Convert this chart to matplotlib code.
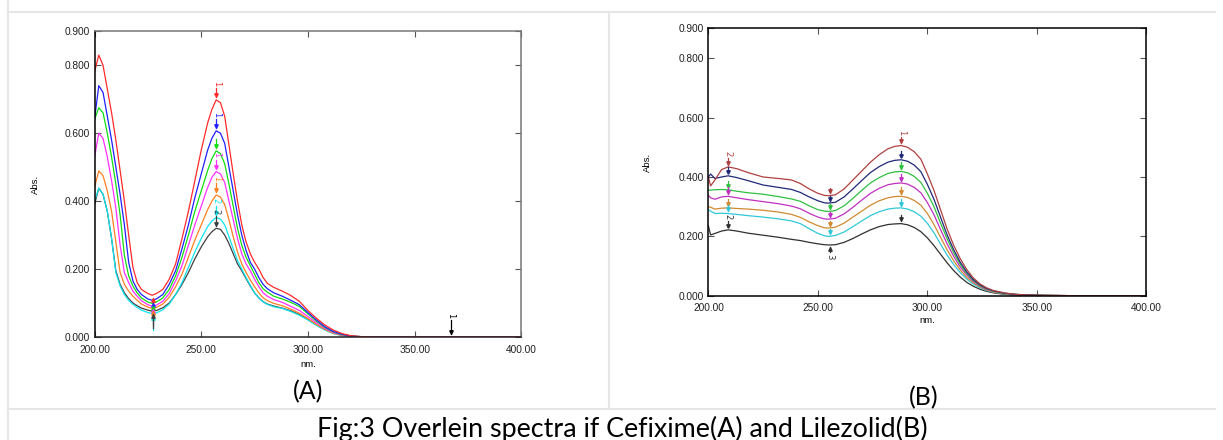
import numpy as np
import matplotlib
matplotlib.use("Agg")
import matplotlib.pyplot as plt
from matplotlib.lines import Line2D

# ---------------- data: (A) Cefixime ----------------
wl_a = [200, 202, 204, 206, 208, 210, 212, 214, 216, 218, 220, 222, 225, 227, 229, 232, 235, 238,
        241, 244, 247, 250, 253, 255, 257, 259, 261, 263, 265, 267, 269, 271, 273, 275, 277, 279,
        281, 284, 288, 292, 296, 300, 304, 308, 312, 316, 320, 325, 330, 400]
cef_red = [0.78, 0.83, 0.80, 0.73, 0.66, 0.58, 0.49, 0.40, 0.30, 0.205, 0.16, 0.14, 0.128, 0.123, 0.128,
           0.14, 0.17, 0.215, 0.29, 0.37, 0.46, 0.55, 0.63, 0.67, 0.698, 0.69, 0.65, 0.565, 0.48, 0.40,
           0.33, 0.28, 0.245, 0.22, 0.20, 0.175, 0.158, 0.146, 0.135, 0.122, 0.105, 0.078, 0.055, 0.035,
           0.02, 0.01, 0.004, 0.001, 0.0, 0.0]
cef_blue = [0.64, 0.74, 0.72, 0.65, 0.58, 0.50, 0.42, 0.33, 0.22, 0.165, 0.14, 0.125, 0.112, 0.108, 0.112,
            0.125, 0.155, 0.195, 0.26, 0.33, 0.41, 0.48, 0.55, 0.585, 0.607, 0.60, 0.57, 0.50, 0.43, 0.36,
            0.30, 0.255, 0.22, 0.20, 0.175, 0.155, 0.142, 0.130, 0.120, 0.108, 0.095, 0.072, 0.050, 0.030,
            0.016, 0.008, 0.003, 0.001, 0.0, 0.0]
cef_green = [0.64, 0.675, 0.66, 0.60, 0.53, 0.45, 0.36, 0.24, 0.18, 0.15, 0.13, 0.115, 0.103, 0.099, 0.103,
             0.115, 0.14, 0.18, 0.235, 0.30, 0.37, 0.43, 0.49, 0.525, 0.548, 0.54, 0.51, 0.45, 0.385, 0.32,
             0.27, 0.235, 0.21, 0.185, 0.16, 0.142, 0.132, 0.12, 0.112, 0.102, 0.090, 0.068, 0.047, 0.028,
             0.015, 0.007, 0.003, 0.001, 0.0, 0.0]
cef_magenta = [0.53, 0.60, 0.585, 0.53, 0.46, 0.38, 0.27, 0.19, 0.16, 0.135, 0.12, 0.107, 0.095, 0.091, 0.094,
               0.105, 0.128, 0.165, 0.21, 0.27, 0.33, 0.385, 0.44, 0.47, 0.487, 0.48, 0.455, 0.40, 0.345, 0.29,
               0.245, 0.215, 0.195, 0.17, 0.148, 0.13, 0.12, 0.11, 0.102, 0.09, 0.078, 0.06, 0.042, 0.025,
               0.013, 0.006, 0.002, 0.0, 0.0, 0.0]
cef_orange = [0.44, 0.489, 0.475, 0.43, 0.37, 0.28, 0.19, 0.155, 0.135, 0.12, 0.108, 0.097, 0.088, 0.084, 0.087,
              0.097, 0.117, 0.148, 0.185, 0.235, 0.285, 0.33, 0.375, 0.40, 0.418, 0.412, 0.39, 0.345, 0.295, 0.25,
              0.215, 0.19, 0.168, 0.148, 0.13, 0.115, 0.107, 0.099, 0.092, 0.082, 0.07, 0.054, 0.037, 0.022,
              0.011, 0.005, 0.002, 0.0, 0.0, 0.0]
cef_cyan = [0.40, 0.438, 0.42, 0.37, 0.29, 0.19, 0.15, 0.125, 0.108, 0.096, 0.087, 0.079, 0.072, 0.069, 0.071,
            0.08, 0.097, 0.125, 0.16, 0.205, 0.25, 0.29, 0.325, 0.342, 0.352, 0.347, 0.33, 0.295, 0.26, 0.225,
            0.20, 0.175, 0.152, 0.13, 0.115, 0.103, 0.096, 0.089, 0.084, 0.075, 0.064, 0.05, 0.034, 0.02,
            0.01, 0.004, 0.001, 0.0, 0.0, 0.0]
cef_black = [0.39, 0.438, 0.42, 0.37, 0.29, 0.195, 0.155, 0.13, 0.113, 0.10, 0.092, 0.085, 0.079, 0.076, 0.078,
             0.086, 0.10, 0.125, 0.155, 0.19, 0.23, 0.265, 0.295, 0.31, 0.32, 0.317, 0.30, 0.275, 0.245, 0.215,
             0.195, 0.172, 0.15, 0.13, 0.115, 0.104, 0.097, 0.091, 0.085, 0.077, 0.066, 0.052, 0.036, 0.022,
             0.011, 0.005, 0.002, 0.0, 0.0, 0.0]
cef_series = [cef_red, cef_blue, cef_green, cef_magenta, cef_orange, cef_cyan, cef_black]
cef_colors = ["#ff2a2a", "#2020ff", "#10dd10", "#ff30ff", "#ff8020", "#10e6f0", "#404040"]
cef_peak_labels = ["1", "1", "", "1", "1", "2", "2"]
cef_peak_nm = 257
cef_min_nm = 227.5
cef_extra_nm = 367

# ---------------- data: (B) Linezolid ----------------
wl_b = [200, 201, 203, 206, 209, 213, 218, 225, 232, 238, 242, 246, 250, 253, 255, 258, 262, 266, 270,
        274, 278, 282, 285, 288, 291, 294, 297, 300, 303, 306, 309, 312, 315, 318, 321, 324, 327, 330,
        335, 340, 345, 350, 360, 370, 400]
lin_red = [0.40, 0.37, 0.39, 0.425, 0.434, 0.428, 0.415, 0.40, 0.395, 0.39, 0.378, 0.36, 0.345, 0.338, 0.337,
           0.34, 0.36, 0.39, 0.42, 0.45, 0.475, 0.495, 0.503, 0.506, 0.50, 0.485, 0.46, 0.41, 0.355, 0.29,
           0.225, 0.17, 0.125, 0.088, 0.06, 0.04, 0.027, 0.018, 0.01, 0.005, 0.003, 0.002, 0.001, 0.0, 0.0]
lin_navy = [0.40, 0.41, 0.395, 0.40, 0.404, 0.398, 0.388, 0.373, 0.365, 0.358, 0.348, 0.333, 0.32, 0.313, 0.312,
            0.315, 0.333, 0.36, 0.388, 0.415, 0.435, 0.45, 0.456, 0.458, 0.453, 0.44, 0.418, 0.375, 0.325, 0.265,
            0.205, 0.155, 0.113, 0.08, 0.055, 0.037, 0.025, 0.017, 0.009, 0.005, 0.003, 0.002, 0.001, 0.0, 0.0]
lin_green = [0.355, 0.356, 0.357, 0.358, 0.357, 0.352, 0.347, 0.342, 0.334, 0.326, 0.318, 0.303, 0.29, 0.285,
             0.284, 0.287, 0.303, 0.328, 0.355, 0.38, 0.398, 0.412, 0.417, 0.419, 0.414, 0.402, 0.382, 0.345,
             0.30, 0.245, 0.192, 0.145, 0.106, 0.075, 0.052, 0.035, 0.024, 0.016, 0.008, 0.005, 0.003, 0.002,
             0.001, 0.0, 0.0]
lin_magenta = [0.338, 0.33, 0.325, 0.333, 0.335, 0.33, 0.324, 0.317, 0.31, 0.302, 0.293, 0.278, 0.265, 0.259,
               0.258, 0.261, 0.276, 0.298, 0.322, 0.345, 0.362, 0.374, 0.378, 0.38, 0.376, 0.365, 0.347, 0.314,
               0.273, 0.223, 0.175, 0.133, 0.097, 0.07, 0.048, 0.033, 0.022, 0.015, 0.008, 0.004, 0.002, 0.001,
               0.001, 0.0, 0.0]
lin_orange = [0.30, 0.298, 0.292, 0.295, 0.296, 0.294, 0.292, 0.288, 0.282, 0.274, 0.264, 0.249, 0.236, 0.229,
              0.228, 0.231, 0.245, 0.265, 0.285, 0.305, 0.32, 0.33, 0.334, 0.335, 0.331, 0.321, 0.305, 0.277,
              0.24, 0.197, 0.155, 0.118, 0.087, 0.062, 0.044, 0.03, 0.02, 0.013, 0.007, 0.004, 0.002, 0.001,
              0.0, 0.0, 0.0]
lin_cyan = [0.29, 0.285, 0.277, 0.278, 0.277, 0.274, 0.27, 0.265, 0.259, 0.252, 0.243, 0.226, 0.21, 0.202, 0.2,
            0.203, 0.215, 0.233, 0.252, 0.27, 0.283, 0.292, 0.295, 0.296, 0.292, 0.283, 0.268, 0.244, 0.212,
            0.174, 0.137, 0.105, 0.078, 0.056, 0.039, 0.027, 0.018, 0.012, 0.006, 0.003, 0.002, 0.001, 0.0,
            0.0, 0.0]
lin_black = [0.235, 0.205, 0.21, 0.218, 0.222, 0.218, 0.211, 0.204, 0.197, 0.19, 0.186, 0.18, 0.175, 0.172,
             0.171, 0.172, 0.18, 0.193, 0.208, 0.222, 0.233, 0.24, 0.242, 0.243, 0.239, 0.23, 0.216, 0.195,
             0.169, 0.14, 0.111, 0.085, 0.063, 0.045, 0.032, 0.022, 0.015, 0.01, 0.005, 0.003, 0.001, 0.001,
             0.0, 0.0, 0.0]
lin_series = [lin_red, lin_navy, lin_green, lin_magenta, lin_orange, lin_cyan, lin_black]
lin_colors = ["#b04040", "#202878", "#30c040", "#c030c0", "#d08a30", "#30c8d8", "#303030"]
lin_peak_nm = 288
lin_min_nm = 255.5
lin_left_nm = 209

y_ticks = [0.0, 0.2, 0.4, 0.6, 0.8, 0.9]
y_ticklabels = ["0.000", "0.200", "0.400", "0.600", "0.800", "0.900"]
x_ticks = [200, 250, 300, 350, 400]
x_ticklabels = ["200.00", "250.00", "300.00", "350.00", "400.00"]

panel_captions = ["(A)", "(B)"]
figure_caption = "Fig:3 Overlein spectra if Cefixime(A) and Lilezolid(B)"

# ---------------- drawing ----------------
W, H = 1223, 440
fig = plt.figure(figsize=(W / 100, H / 100), dpi=100)
fig.patch.set_facecolor("white")

TICKFONT = dict(family="Liberation Sans", size=7.3, color="#202020")


def px_axes(x0, y0, x1, y1):
    return fig.add_axes([x0 / W, 1 - y1 / H, (x1 - x0) / W, (y1 - y0) / H])


def style_axes(ax, spine_cols):
    ax.set_xlim(200, 400)
    ax.set_ylim(0, 0.9)
    ax.set_xticks(x_ticks)
    ax.set_xticklabels(x_ticklabels, **TICKFONT)
    ax.set_yticks(y_ticks)
    ax.set_yticklabels(y_ticklabels, **TICKFONT)
    ax.tick_params(direction="in", length=4, width=0.8, top=True, right=True,
                   colors="#555555", labelcolor="#202020")
    ax.tick_params(axis="x", pad=5.5)
    ax.tick_params(axis="y", pad=3)
    for side, c in spine_cols.items():
        ax.spines[side].set_color(c)
        ax.spines[side].set_linewidth(1.1)
    ax.set_xlabel("nm.", fontsize=6.8, family="Liberation Sans", labelpad=3)
    ax.set_ylabel("Abs.", fontsize=6.8, family="Liberation Sans")


def marker(ax, x, ycurve, color, label="", up=True, length=0.04, fs=6):
    if up:
        y0, y1 = ycurve + 0.008, ycurve + length
        ax.plot([x, x], [y0, y1], color=color, lw=0.9, zorder=5)
        ax.plot([x], [y0 + 0.006], marker="v", ms=2.5, color=color, zorder=5)
        if label:
            ax.text(x, y1 + 0.006, label, rotation=270, ha="center", va="bottom",
                    fontsize=fs, color=color, family="DejaVu Sans", zorder=6)
    else:
        y0, y1 = ycurve - 0.008, ycurve - length
        ax.plot([x, x], [y0, y1], color=color, lw=0.9, zorder=5)
        ax.plot([x], [y0 - 0.006], marker="^", ms=2.5, color=color, zorder=5)
        if label:
            ax.text(x, y1 - 0.006, label, rotation=270, ha="center", va="top",
                    fontsize=fs, color=color, family="DejaVu Sans", zorder=6)


# Panel A
axA = px_axes(94.5, 31.3, 521.4, 337.0)
style_axes(axA, {"left": "#000000", "bottom": "#222222", "top": "#777777", "right": "#777777"})
axA.yaxis.set_label_coords(-0.128, 0.5)
axA.xaxis.set_label_coords(0.5, -0.075)
for ys, c in zip(cef_series[::-1], cef_colors[::-1]):
    axA.plot(wl_a, ys, color=c, lw=0.9)
for ys, c, lab in zip(cef_series, cef_colors, cef_peak_labels):
    yp = float(np.interp(cef_peak_nm, wl_a, ys))
    marker(axA, cef_peak_nm, yp, c, lab, up=True, length=0.035)
for ys, c in zip(cef_series, cef_colors):
    ym = float(np.interp(cef_min_nm, wl_a, ys))
    marker(axA, cef_min_nm, ym, c, "", up=False, length=min(0.05, ym - 0.008))
marker(axA, cef_extra_nm, 0.0, "#000000", "1", up=True, length=0.05)

# Panel B
axB = px_axes(708.4, 28.5, 1146.4, 295.8)
style_axes(axB, {"left": "#000000", "bottom": "#000000", "top": "#000000", "right": "#000000"})
axB.yaxis.set_label_coords(-0.128, 0.5)
axB.xaxis.set_label_coords(0.5, -0.075)
for ys, c in zip(lin_series[::-1], lin_colors[::-1]):
    axB.plot(wl_b, ys, color=c, lw=0.9)
for i, (ys, c) in enumerate(zip(lin_series, lin_colors)):
    yp = float(np.interp(lin_peak_nm, wl_b, ys))
    marker(axB, lin_peak_nm, yp, c, "1" if i == 0 else "", up=True, length=0.03)
    ym = float(np.interp(lin_min_nm, wl_b, ys))
    marker(axB, lin_min_nm, ym, c, "3" if i == 6 else "", up=(i != 6), length=0.025)
    yl = float(np.interp(lin_left_nm, wl_b, ys))
    marker(axB, lin_left_nm, yl, c, "2" if i in (0, 6) else "", up=True, length=0.03)

# Panel captions
fig.text(308 / W, 1 - 399 / H, panel_captions[0], ha="center", va="baseline",
         fontsize=18, family="Lato", color="#000000")
fig.text(924 / W, 1 - 405 / H, panel_captions[1], ha="center", va="baseline",
         fontsize=18, family="Lato", color="#000000")
fig.text(622 / W, 1 - 437 / H, figure_caption, ha="center", va="baseline",
         fontsize=19.4, family="Lato", color="#000000")

# Table borders
bcol = "#e6e6e6"
lines = [
    ([8, 1215], [12, 12]),
    ([8, 1215], [409, 409]),
    ([8, 8], [0, 440]),
    ([609, 609], [12, 409]),
]
for xs, ys in lines:
    fig.add_artist(Line2D([x / W for x in xs], [1 - y / H for y in ys], color=bcol, lw=1.5))

fig.savefig("out.png", dpi=100, facecolor="white")
